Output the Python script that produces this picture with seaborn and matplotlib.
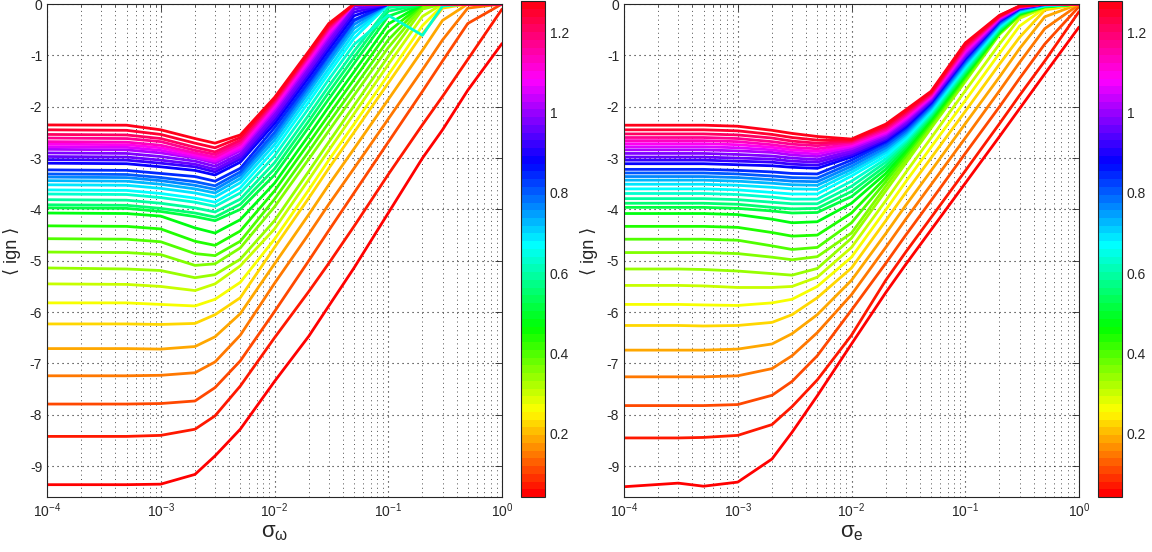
"""Mean ign vs noise level: two panels (sigma_omega, sigma_e), one line per parameter value."""

import matplotlib

matplotlib.use("Agg")
import matplotlib.pyplot as plt  # noqa: E402
import numpy as np  # noqa: E402
import pandas as pd  # noqa: E402
import seaborn as sns  # noqa: E402
from matplotlib.colors import ListedColormap, Normalize, hsv_to_rgb  # noqa: E402

# colour parameter of each line (colorbar value), bottom line first
PARAM = [0.041, 0.077, 0.114, 0.150, 0.187, 0.223, 0.260, 0.296, 0.333, 0.369,
         0.405, 0.442, 0.478, 0.515, 0.551, 0.588, 0.624, 0.660, 0.697, 0.733,
         0.770, 0.806, 0.843, 0.879, 0.915, 0.952, 0.988, 1.025, 1.061, 1.097,
         1.134, 1.170, 1.207, 1.243, 1.279]
CBAR_TICKS = [0.2, 0.4, 0.6, 0.8, 1.0, 1.2]
CBAR_LABELS = ["0.2", "0.4", "0.6", "0.8", "1", "1.2"]

# left panel: sigma_omega grid and <ign> per line
SIGMA_W = [1e-4, 5e-4, 1e-3, 2e-3, 3e-3, 5e-3, 1e-2, 2e-2, 3e-2, 5e-2, 0.1, 0.2, 0.3, 0.5, 1.0]
IGN_W = [
    [-9.36, -9.36, -9.35, -9.16, -8.80, -8.28, -7.35, -6.47, -5.88, -5.14, -4.07, -3.00, -2.45, -1.68, -0.77],
    [-8.42, -8.42, -8.40, -8.28, -8.02, -7.44, -6.50, -5.60, -5.05, -4.33, -3.32, -2.35, -1.80, -1.08, -0.10],
    [-7.79, -7.79, -7.78, -7.73, -7.47, -6.95, -5.99, -5.00, -4.41, -3.68, -2.69, -1.70, -1.11, -0.38, 0.0],
    [-7.24, -7.24, -7.23, -7.18, -6.97, -6.45, -5.44, -4.48, -3.90, -3.20, -2.24, -1.28, -0.70, -0.08, 0.0],
    [-6.71, -6.71, -6.72, -6.67, -6.48, -6.03, -5.06, -4.10, -3.52, -2.82, -1.86, -0.90, -0.32, 0.0, 0.0],
    [-6.23, -6.23, -6.24, -6.22, -6.05, -5.72, -4.74, -3.78, -3.20, -2.50, -1.54, -0.58, -0.08, 0.0, 0.0],
    [-5.82, -5.82, -5.85, -5.88, -5.75, -5.42, -4.58, -3.62, -3.04, -2.34, -1.38, -0.42, -0.03, 0.0, 0.0],
    [-5.45, -5.46, -5.50, -5.58, -5.45, -5.10, -4.38, -3.42, -2.85, -2.14, -1.18, -0.24, 0.0, 0.0, 0.0],
    [-5.14, -5.16, -5.19, -5.33, -5.27, -4.97, -4.22, -3.26, -2.69, -1.98, -1.02, -0.10, 0.0, 0.0, 0.0],
    [-4.83, -4.84, -4.88, -5.09, -5.06, -4.75, -3.95, -3.02, -2.47, -1.78, -0.85, -0.05, 0.0, 0.0, 0.0],
    [-4.57, -4.58, -4.63, -4.86, -4.90, -4.62, -3.80, -2.87, -2.31, -1.63, -0.70, -0.01, 0.0, 0.0, 0.0],
    [-4.32, -4.33, -4.38, -4.62, -4.70, -4.42, -3.64, -2.71, -2.16, -1.47, -0.54, 0.0, 0.0, 0.0, 0.0],
    [-4.07, -4.08, -4.13, -4.36, -4.46, -4.20, -3.49, -2.56, -2.00, -1.32, -0.39, 0.0, 0.0, 0.0, 0.0],
    [-3.97, -3.98, -4.04, -4.14, -4.22, -4.00, -3.33, -2.40, -1.85, -1.16, -0.24, 0.0, 0.0, 0.0, 0.0],
    [-3.91, -3.92, -3.98, -4.07, -4.15, -3.90, -3.21, -2.28, -1.72, -1.04, -0.14, 0.0, 0.0, 0.0, 0.0],
    [-3.81, -3.82, -3.88, -3.97, -4.05, -3.80, -3.09, -2.16, -1.60, -0.92, -0.07, 0.0, 0.0, 0.0, 0.0],
    [-3.70, -3.71, -3.77, -3.86, -3.94, -3.68, -2.96, -2.03, -1.47, -0.79, -0.22, -0.61, -0.04, 0.0, 0.0],
    [-3.62, -3.63, -3.69, -3.78, -3.86, -3.58, -2.84, -1.91, -1.35, -0.67, -0.01, 0.0, 0.0, 0.0, 0.0],
    [-3.52, -3.53, -3.59, -3.68, -3.76, -3.48, -2.74, -1.81, -1.26, -0.57, 0.0, 0.0, 0.0, 0.0, 0.0],
    [-3.44, -3.45, -3.51, -3.60, -3.68, -3.40, -2.65, -1.72, -1.16, -0.48, 0.0, 0.0, 0.0, 0.0, 0.0],
    [-3.37, -3.38, -3.44, -3.53, -3.61, -3.33, -2.57, -1.64, -1.09, -0.40, 0.0, 0.0, 0.0, 0.0, 0.0],
    [-3.31, -3.32, -3.38, -3.46, -3.54, -3.27, -2.50, -1.57, -1.01, -0.33, 0.0, 0.0, 0.0, 0.0, 0.0],
    [-3.23, -3.24, -3.30, -3.36, -3.45, -3.20, -2.41, -1.51, -0.97, -0.31, 0.0, 0.0, 0.0, 0.0, 0.0],
    [-3.10, -3.11, -3.17, -3.24, -3.33, -3.08, -2.33, -1.43, -0.89, -0.23, 0.0, 0.0, 0.0, 0.0, 0.0],
    [-3.03, -3.04, -3.10, -3.17, -3.27, -3.02, -2.26, -1.36, -0.82, -0.16, 0.0, 0.0, 0.0, 0.0, 0.0],
    [-2.97, -2.98, -3.04, -3.12, -3.22, -2.97, -2.20, -1.30, -0.76, -0.10, 0.0, 0.0, 0.0, 0.0, 0.0],
    [-2.90, -2.91, -2.97, -3.06, -3.16, -2.92, -2.14, -1.24, -0.70, -0.04, 0.0, 0.0, 0.0, 0.0, 0.0],
    [-2.83, -2.84, -2.90, -3.00, -3.10, -2.86, -2.08, -1.18, -0.64, 0.0, 0.0, 0.0, 0.0, 0.0, 0.0],
    [-2.78, -2.79, -2.85, -2.98, -3.06, -2.82, -2.03, -1.13, -0.59, 0.0, 0.0, 0.0, 0.0, 0.0, 0.0],
    [-2.73, -2.74, -2.80, -2.94, -3.02, -2.78, -1.99, -1.09, -0.55, 0.0, 0.0, 0.0, 0.0, 0.0, 0.0],
    [-2.68, -2.69, -2.75, -2.90, -2.98, -2.73, -1.94, -1.04, -0.50, 0.0, 0.0, 0.0, 0.0, 0.0, 0.0],
    [-2.61, -2.62, -2.68, -2.85, -2.93, -2.69, -1.91, -1.01, -0.47, 0.0, 0.0, 0.0, 0.0, 0.0, 0.0],
    [-2.54, -2.55, -2.62, -2.79, -2.88, -2.65, -1.88, -0.98, -0.44, 0.0, 0.0, 0.0, 0.0, 0.0, 0.0],
    [-2.45, -2.46, -2.54, -2.71, -2.80, -2.60, -1.85, -0.95, -0.41, 0.0, 0.0, 0.0, 0.0, 0.0, 0.0],
    [-2.355, -2.36, -2.45, -2.62, -2.71, -2.55, -1.82, -0.92, -0.38, 0.0, 0.0, 0.0, 0.0, 0.0, 0.0],
]

# right panel: sigma_e grid and <ign> per line
SIGMA_E = [1e-4, 3e-4, 5e-4, 1e-3, 2e-3, 3e-3, 5e-3, 1e-2, 2e-2, 3e-2, 5e-2, 0.1, 0.2, 0.3, 0.5, 1.0]
IGN_E = [
    [-9.40, -9.33, -9.39, -9.31, -8.86, -8.34, -7.63, -6.62, -5.62, -5.07, -4.40, -3.49, -2.58, -2.04, -1.36, -0.45],
    [-8.45, -8.45, -8.44, -8.40, -8.19, -7.84, -7.32, -6.45, -5.38, -4.83, -4.16, -3.25, -2.33, -1.78, -1.11, -0.15],
    [-7.82, -7.82, -7.82, -7.80, -7.62, -7.35, -6.85, -5.96, -5.05, -4.50, -3.83, -2.91, -2.00, -1.45, -0.78, -0.05],
    [-7.26, -7.26, -7.26, -7.24, -7.10, -6.85, -6.40, -5.66, -4.74, -4.19, -3.52, -2.61, -1.69, -1.14, -0.48, -0.01],
    [-6.74, -6.74, -6.74, -6.72, -6.62, -6.42, -6.05, -5.38, -4.47, -3.92, -3.25, -2.33, -1.42, -0.87, -0.25, 0.0],
    [-6.26, -6.26, -6.27, -6.26, -6.20, -6.05, -5.72, -5.14, -4.22, -3.67, -3.00, -2.09, -1.17, -0.65, -0.12, 0.0],
    [-5.85, -5.85, -5.86, -5.87, -5.82, -5.75, -5.50, -4.93, -4.01, -3.46, -2.79, -1.88, -0.96, -0.43, -0.08, 0.0],
    [-5.48, -5.48, -5.49, -5.52, -5.52, -5.50, -5.32, -4.74, -3.83, -3.28, -2.61, -1.69, -0.78, -0.28, -0.07, 0.0],
    [-5.16, -5.16, -5.17, -5.20, -5.25, -5.28, -5.15, -4.56, -3.64, -3.10, -2.42, -1.51, -0.59, -0.23, -0.06, 0.0],
    [-4.84, -4.84, -4.84, -4.86, -4.93, -4.98, -4.92, -4.46, -3.55, -3.03, -2.37, -1.47, -0.58, -0.22, -0.06, 0.0],
    [-4.58, -4.58, -4.58, -4.60, -4.71, -4.78, -4.74, -4.26, -3.46, -2.96, -2.33, -1.44, -0.56, -0.21, -0.05, 0.0],
    [-4.33, -4.33, -4.33, -4.35, -4.45, -4.52, -4.50, -4.07, -3.38, -2.90, -2.29, -1.41, -0.55, -0.20, -0.05, 0.0],
    [-4.08, -4.08, -4.08, -4.10, -4.19, -4.26, -4.24, -3.88, -3.30, -2.85, -2.25, -1.38, -0.54, -0.19, -0.05, 0.0],
    [-3.96, -3.96, -3.96, -3.98, -4.03, -4.07, -4.06, -3.75, -3.22, -2.80, -2.21, -1.35, -0.52, -0.18, -0.04, 0.0],
    [-3.88, -3.88, -3.88, -3.90, -3.96, -3.99, -3.98, -3.65, -3.15, -2.75, -2.18, -1.32, -0.50, -0.17, -0.04, 0.0],
    [-3.79, -3.79, -3.79, -3.81, -3.86, -3.89, -3.89, -3.55, -3.08, -2.70, -2.15, -1.29, -0.48, -0.16, -0.04, 0.0],
    [-3.69, -3.69, -3.69, -3.71, -3.76, -3.80, -3.80, -3.45, -3.02, -2.66, -2.12, -1.26, -0.46, -0.15, -0.03, 0.0],
    [-3.60, -3.60, -3.60, -3.62, -3.67, -3.70, -3.70, -3.35, -2.96, -2.62, -2.09, -1.23, -0.44, -0.14, -0.03, 0.0],
    [-3.51, -3.51, -3.51, -3.53, -3.57, -3.60, -3.61, -3.28, -2.90, -2.58, -2.06, -1.20, -0.42, -0.13, -0.02, 0.0],
    [-3.43, -3.43, -3.43, -3.45, -3.49, -3.52, -3.53, -3.22, -2.85, -2.54, -2.03, -1.17, -0.40, -0.12, -0.02, 0.0],
    [-3.36, -3.36, -3.36, -3.38, -3.42, -3.45, -3.46, -3.16, -2.80, -2.50, -2.00, -1.14, -0.38, -0.11, -0.01, 0.0],
    [-3.29, -3.29, -3.29, -3.31, -3.35, -3.38, -3.39, -3.10, -2.75, -2.46, -1.97, -1.11, -0.36, -0.10, -0.01, 0.0],
    [-3.22, -3.22, -3.22, -3.24, -3.27, -3.30, -3.31, -3.04, -2.70, -2.42, -1.94, -1.08, -0.34, -0.09, 0.0, 0.0],
    [-3.11, -3.11, -3.11, -3.13, -3.15, -3.18, -3.20, -2.98, -2.67, -2.39, -1.92, -1.06, -0.33, -0.09, 0.0, 0.0],
    [-3.04, -3.04, -3.04, -3.06, -3.08, -3.12, -3.14, -2.94, -2.64, -2.36, -1.90, -1.04, -0.32, -0.08, 0.0, 0.0],
    [-2.98, -2.98, -2.98, -3.00, -3.02, -3.06, -3.08, -2.90, -2.61, -2.33, -1.88, -1.02, -0.31, -0.08, 0.0, 0.0],
    [-2.91, -2.91, -2.91, -2.93, -2.96, -3.00, -3.03, -2.86, -2.58, -2.30, -1.86, -1.00, -0.30, -0.07, 0.0, 0.0],
    [-2.84, -2.84, -2.84, -2.86, -2.89, -2.94, -2.97, -2.82, -2.55, -2.27, -1.84, -0.97, -0.29, -0.07, 0.0, 0.0],
    [-2.78, -2.78, -2.78, -2.80, -2.84, -2.89, -2.92, -2.78, -2.52, -2.24, -1.82, -0.94, -0.28, -0.06, 0.0, 0.0],
    [-2.72, -2.72, -2.72, -2.74, -2.79, -2.84, -2.87, -2.75, -2.49, -2.21, -1.80, -0.91, -0.27, -0.06, 0.0, 0.0],
    [-2.66, -2.66, -2.66, -2.68, -2.74, -2.79, -2.82, -2.72, -2.46, -2.18, -1.78, -0.88, -0.26, -0.05, 0.0, 0.0],
    [-2.60, -2.60, -2.60, -2.62, -2.68, -2.73, -2.76, -2.69, -2.43, -2.15, -1.76, -0.85, -0.25, -0.05, 0.0, 0.0],
    [-2.53, -2.53, -2.53, -2.55, -2.61, -2.67, -2.71, -2.67, -2.40, -2.12, -1.74, -0.82, -0.24, -0.05, 0.0, 0.0],
    [-2.45, -2.45, -2.45, -2.47, -2.54, -2.60, -2.65, -2.65, -2.37, -2.09, -1.72, -0.79, -0.23, -0.04, 0.0, 0.0],
    [-2.36, -2.36, -2.36, -2.38, -2.46, -2.52, -2.58, -2.63, -2.34, -2.06, -1.70, -0.76, -0.22, -0.04, 0.0, 0.0],
]


def _long(sigma, ign):
    rows = []
    for p, ys in zip(PARAM, ign):
        for s, y in zip(sigma, ys):
            rows.append({"sigma": s, "ign": y, "param": p})
    return pd.DataFrame(rows)


sns.set_style("white")
plt.rcParams["font.family"] = ["Liberation Sans", "DejaVu Sans"]
plt.rcParams["axes.unicode_minus"] = False
plt.rcParams["mathtext.fontset"] = "custom"
plt.rcParams["mathtext.rm"] = "Liberation Sans"
plt.rcParams["mathtext.it"] = "Liberation Sans:italic"

# MATLAB-style hsv(64)
CMAP = ListedColormap(hsv_to_rgb(np.column_stack([np.arange(64) / 64, np.ones(64), np.ones(64)])))
NORM = Normalize(vmin=min(PARAM), vmax=max(PARAM))
DOTS = (0, (1, 3.5))

W, H = 1152, 552
fig = plt.figure(figsize=(W / 100, H / 100), dpi=100)

panels = [
    (SIGMA_W, IGN_W, r"$\mathregular{\sigma_{\omega}}$", 47, 521),
    (SIGMA_E, IGN_E, r"$\mathregular{\sigma_{e}}$", 624, 1098),
]
for sigma, ign, xlabel, ax_left, cb_left in panels:
    ax = fig.add_axes([ax_left / W, 55 / H, 455 / W, 493 / H])
    sns.lineplot(data=_long(sigma, ign), x="sigma", y="ign", hue="param",
                 palette=CMAP, hue_norm=NORM, estimator=None, errorbar=None,
                 legend=False, lw=2.0, ax=ax)
    ax.set_xscale("log")
    ax.set_xlim(1e-4, 1)
    ax.set_ylim(-9.6, 0)
    ax.set_yticks(range(-9, 1))
    ax.grid(True, which="major", ls=DOTS, color="0.1", lw=0.8)
    ax.grid(True, which="minor", axis="x", ls=DOTS, color="0.3", lw=0.7)
    ax.tick_params(which="both", direction="in", top=True, right=True, labelsize=10)
    ax.tick_params(which="major", length=5, width=0.6)
    ax.tick_params(which="minor", length=2.5, width=0.5)
    for sp in ax.spines.values():
        sp.set_color("0.15"); sp.set_linewidth(0.8)
    ax.set_xlabel(xlabel, fontsize=16, labelpad=1)
    ax.set_ylabel("\u27e8 ign \u27e9", fontsize=13, labelpad=6)

    cax = fig.add_axes([cb_left / W, 55 / H, 24 / W, 496 / H])
    sm = plt.cm.ScalarMappable(norm=NORM, cmap=CMAP)
    cb = fig.colorbar(sm, cax=cax)
    cb.set_ticks(CBAR_TICKS)
    cb.set_ticklabels(CBAR_LABELS)
    cb.ax.tick_params(direction="in", length=4, width=0.6, labelsize=10)
    cb.outline.set_linewidth(0.8)

fig.savefig("out.png", dpi=100)
plt.close(fig)
